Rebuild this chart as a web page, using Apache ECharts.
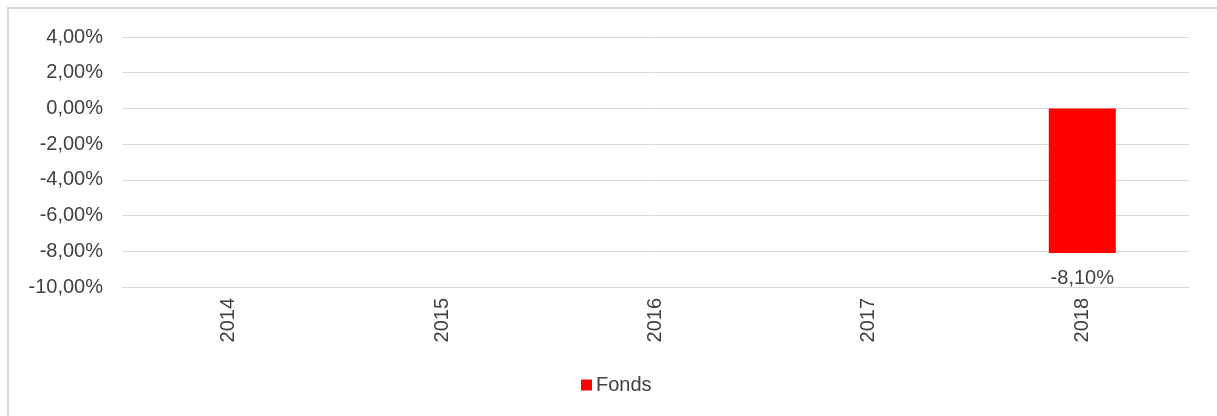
<!DOCTYPE html>
<html>
<head>
<meta charset="utf-8">
<script src="https://cdn.jsdelivr.net/npm/echarts@6/dist/echarts.min.js"></script>
<style>
  html, body { margin: 0; padding: 0; background: #fff; overflow: hidden; }
  #frame { position: absolute; left: 7px; top: 7px; width: 1300px; height: 500px;
           border-left: 2px solid #d9d9d9; border-top: 2px solid #d9d9d9; }
  #chart { position: absolute; left: 0; top: 0; width: 1217px; height: 416px; }
</style>
</head>
<body>
<div id="frame"></div>
<div id="chart"></div>
<script>
// Jahresperformance
var years = ['2014', '2015', '2016', '2017', '2018'];
var fonds = [null, null, null, null, -8.10];
var yMin = -10, yMax = 4, yStep = 2;

function pct(v) {
    return v.toFixed(2).replace('.', ',') + '%';
}

var chart = echarts.init(document.getElementById('chart'));
var textColor = '#404040';
var font = 'Liberation Sans, Arial, sans-serif';

option = {
    animation: false,
    grid: {
        left: 122,
        right: 28,
        top: 37,
        bottom: 129
    },
    legend: {
        data: ['Fonds'],
        left: 576,
        top: 370,
        itemWidth: 11,
        itemHeight: 11,
        itemGap: 10,
        icon: 'rect',
        textStyle: { color: textColor, fontSize: 20, fontFamily: font, padding: [0, 0, 0, -1] }
    },
    xAxis: {
        type: 'category',
        data: years,
        axisLine: { show: true, onZero: false, lineStyle: { color: '#d9d9d9' } },
        axisTick: { show: false },
        axisLabel: {
            rotate: 90,
            margin: 11,
            color: textColor,
            fontSize: 20,
            fontFamily: font
        }
    },
    yAxis: {
        type: 'value',
        min: yMin,
        max: yMax,
        interval: yStep,
        axisLine: { show: false },
        axisTick: { show: false },
        splitLine: { lineStyle: { color: '#d9d9d9', width: 1 } },
        axisLabel: {
            margin: 19,
            color: textColor,
            fontSize: 20,
            fontFamily: font,
            formatter: pct
        }
    },
    series: [{
        name: 'Fonds',
        type: 'bar',
        data: fonds,
        barWidth: 67,
        itemStyle: { color: '#ff0000' },
        label: {
            show: true,
            position: 'bottom',
            distance: 15,
            color: textColor,
            fontSize: 20,
            fontFamily: font,
            formatter: function (p) { return pct(p.value); }
        }
    }]
};
chart.setOption(option);
</script>
</body>
</html>
